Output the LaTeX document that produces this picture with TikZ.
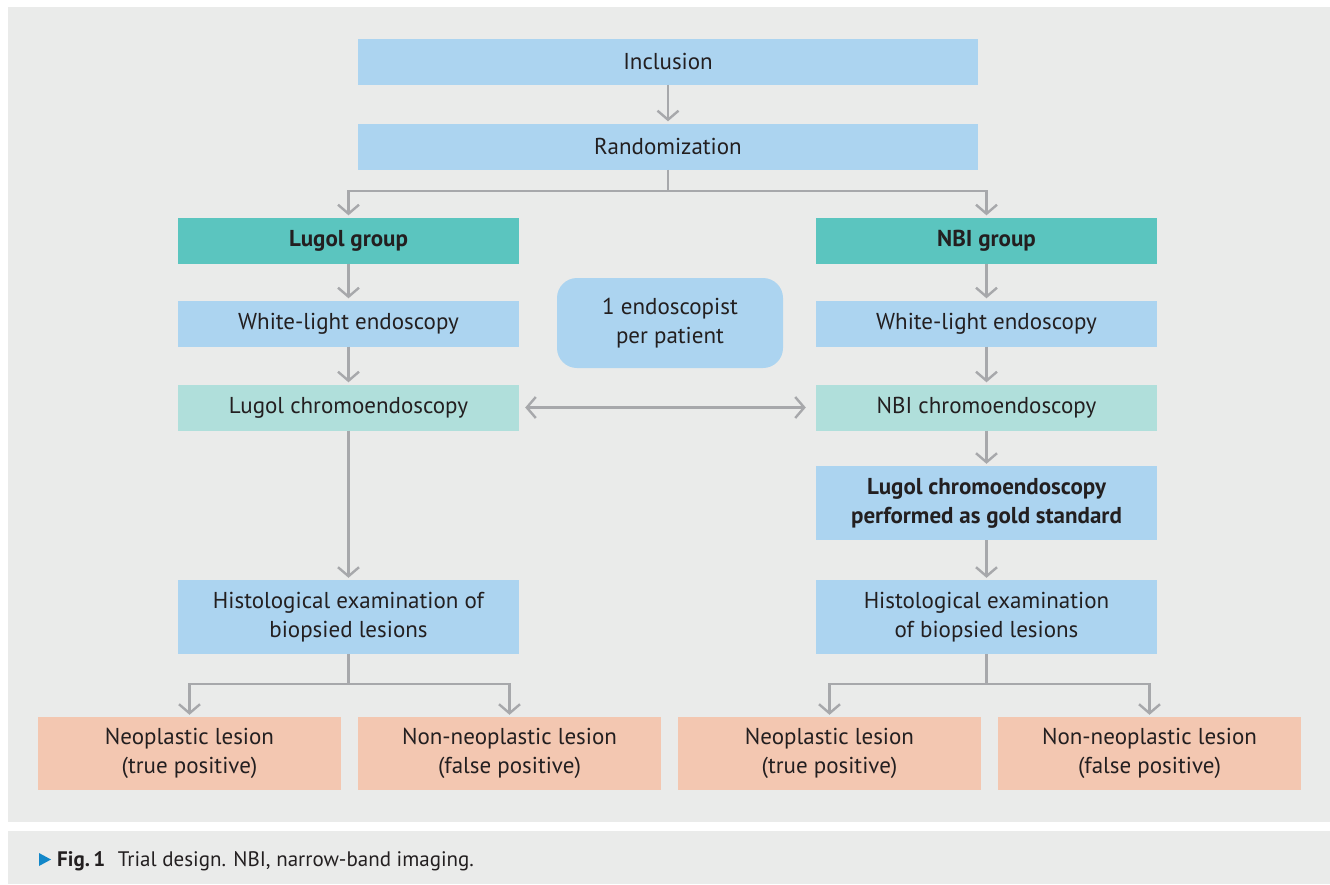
\documentclass[tikz,border=0pt]{standalone}
\usepackage{fontspec}
\setmainfont{PT Sans}
\usepackage{xcolor}
\usetikzlibrary{positioning, arrows.meta, calc}

\definecolor{panelgray}{HTML}{EAEBEA}
\definecolor{boxblue}{HTML}{ACD4F0}
\definecolor{boxteal}{HTML}{5BC5BF}
\definecolor{boxmint}{HTML}{B0DFDB}
\definecolor{boxsalmon}{HTML}{F3C7B1}
\definecolor{linegray}{HTML}{A7A8AB}
\definecolor{textdark}{HTML}{231F20}
\definecolor{markblue}{HTML}{1287C9}

\begin{document}
\begin{tikzpicture}[
        x=1pt, y=-1pt,
        >={Straight Barb[length=9pt, width=21pt]},
        box_base/.style={inner sep=0pt, align=center, text=textdark,
            font=\fontsize{23}{29}\selectfont},
        wide_box/.style={box_base, fill=boxblue, minimum width=620pt, minimum height=46pt},
        col_box/.style={box_base, fill=boxblue, minimum width=341pt, minimum height=46pt},
        tall_box/.style={col_box, minimum height=74pt},
        group_box/.style={col_box, fill=boxteal, font=\fontsize{23}{29}\selectfont\bfseries},
        chromo_box/.style={col_box, fill=boxmint},
        out_box/.style={box_base, fill=boxsalmon, minimum width=303pt, minimum height=73pt},
        arrow_style/.style={->, line width=2.4pt, draw=linegray, shorten >=2pt},
        line_style/.style={line width=2.4pt, draw=linegray}
    ]

    % =========================================================================
    % 0. PANELS (page frame, figure area, caption strip)
    % =========================================================================
    \useasboundingbox (0,0) rectangle (1330,884);
    \fill[white] (0,0) rectangle (1330,884);
    \fill[panelgray] (8,7) rectangle (1330,822);
    \fill[panelgray] (8,831) rectangle (1330,884);

    % =========================================================================
    % 1. NODE PLACEMENTS
    % =========================================================================

    % Top column
    \node[wide_box] (incl) at (668, 61.5) {Inclusion};
    \node[wide_box] (rand) at (668, 146.5) {Randomization};

    % Lugol arm (x = 348.5)
    \node[group_box]  (lgroup)  at (348.5, 240.5) {Lugol group};
    \node[col_box]    (lwhite)  at (348.5, 323.5) {White-light endoscopy};
    \node[chromo_box] (lchromo) at (348.5, 407.5) {Lugol chromoendoscopy};
    \node[tall_box]   (lhisto)  at (348.5, 617) {Histological examination of\\biopsied lesions};

    % NBI arm (x = 986.5)
    \node[group_box]  (ngroup)  at (986.5, 240.5) {NBI group};
    \node[col_box]    (nwhite)  at (986.5, 323.5) {White-light endoscopy};
    \node[chromo_box] (nchromo) at (986.5, 407.5) {NBI chromoendoscopy};
    \node[tall_box, font=\fontsize{23}{29}\selectfont\bfseries]
                      (ngold)   at (986.5, 503) {Lugol chromoendoscopy\\performed as gold standard};
    \node[tall_box]   (nhisto)  at (986.5, 617) {Histological examination\\of biopsied lesions};

    % Middle note
    \node[box_base, fill=boxblue, rounded corners=20pt, minimum width=226pt,
          minimum height=90pt] (endo) at (670, 323) {1 endoscopist\\per patient};

    % Outcome row (y = 753.5)
    \node[out_box] (ltrue)  at (189.5, 753.5)  {Neoplastic lesion\\(true positive)};
    \node[out_box] (lfalse) at (509.5, 753.5)  {Non-neoplastic lesion\\(false positive)};
    \node[out_box] (ntrue)  at (829.5, 753.5)  {Neoplastic lesion\\(true positive)};
    \node[out_box] (nfalse) at (1149.5, 753.5) {Non-neoplastic lesion\\(false positive)};

    % =========================================================================
    % 2. CONNECTING ARROWS
    % =========================================================================

    % Top
    \draw[arrow_style] (incl) -- (rand);
    \draw[line_style] (rand.south) -- ++(0, 21) coordinate (randsplit);
    \draw[arrow_style] (randsplit) -| (lgroup.north);
    \draw[arrow_style] (randsplit) -| (ngroup.north);

    % Lugol arm
    \draw[arrow_style] (lgroup) -- (lwhite);
    \draw[arrow_style] (lwhite) -- (lchromo);
    \draw[arrow_style] (lchromo) -- (lhisto);

    % NBI arm
    \draw[arrow_style] (ngroup) -- (nwhite);
    \draw[arrow_style] (nwhite) -- (nchromo);
    \draw[arrow_style] (nchromo) -- (ngold);
    \draw[arrow_style] (ngold) -- (nhisto);

    % Comparison between arms
    \draw[arrow_style, <->, shorten <=6pt, shorten >=10pt] (lchromo) -- (nchromo);

    % =========================================================================
    % 3. OUTCOME SPLITS
    % =========================================================================
    \draw[line_style] (lhisto.south) -- ++(0, 30) coordinate (lsplit);
    \draw[arrow_style] (lsplit) -| (ltrue.north);
    \draw[arrow_style] (lsplit) -| (lfalse.north);

    \draw[line_style] (nhisto.south) -- ++(0, 30) coordinate (nsplit);
    \draw[arrow_style] (nsplit) -| (ntrue.north);
    \draw[arrow_style] (nsplit) -| (nfalse.north);

    % =========================================================================
    % 4. CAPTION
    % =========================================================================
    \fill[markblue] (39, 853) -- (51, 859.5) -- (39, 866) -- cycle;
    \node[anchor=base west, inner sep=0pt, text=textdark,
          font=\fontsize{21}{25}\selectfont] (caption) at (57, 866)
          {\textbf{Fig.\,1}\hspace{0.6em}Trial design. NBI, narrow-band imaging.};

\end{tikzpicture}
\end{document}
